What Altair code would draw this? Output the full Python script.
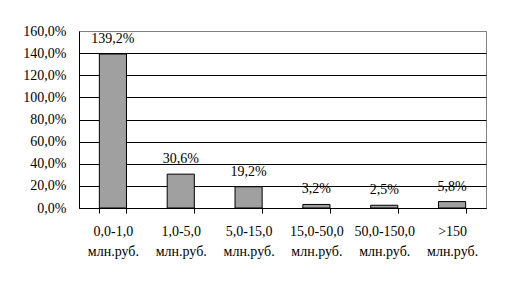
import altair as alt
import pandas as pd

categories = ["0,0-1,0|млн.руб.", "1,0-5,0|млн.руб.", "5,0-15,0|млн.руб.",
              "15,0-50,0|млн.руб.", "50,0-150,0|млн.руб.", ">150|млн.руб."]
values = [1.392, 0.306, 0.192, 0.032, 0.025, 0.058]
labels = ["139,2%", "30,6%", "19,2%", "3,2%", "2,5%", "5,8%"]
y_ticks = [0, 0.2, 0.4, 0.6, 0.8, 1.0, 1.2, 1.4, 1.6]

df = pd.DataFrame({"cat": categories, "val": values, "lab": labels})

FONT = "Liberation Serif"
FS = 14

x = alt.X("cat:N", sort=categories, title=None,
          scale=alt.Scale(paddingInner=0.6, paddingOuter=0.3),
          axis=alt.Axis(labelExpr="split(datum.label, '|')", labelAngle=0,
                        tickBand="extent", tickSize=5, tickColor="black",
                        domainColor="black", labelPadding=18, labelLineHeight=20,
                        labelFont=FONT, labelFontSize=FS, labelColor="black",
                        labelBaseline="middle", labelOverlap=False))
y = alt.Y("val:Q", title=None,
          scale=alt.Scale(domain=[0, 1.6], nice=False),
          axis=alt.Axis(values=y_ticks, labelExpr="replace(format(datum.value, '.1%'), '.', ',')",
                        ticks=False, labelPadding=13, domainColor="black",
                        grid=True, labelOverlap=False,
                        gridColor={"condition": {"test": "datum.value >= 1.6", "value": "#808080"}, "value": "black"},
                        labelFont=FONT, labelFontSize=FS, labelColor="black"))

base = alt.Chart(df).encode(x=x, y=y)
bars = base.mark_bar(color="#A0A0A0", stroke="black", strokeWidth=1)
text = base.mark_text(font=FONT, fontSize=FS, color="black", baseline="alphabetic", dy=-11).encode(text="lab:N")

chart = alt.layer(bars, text).properties(
    width=407, height=177,
    autosize=alt.AutoSizeParams(type="none"),
    padding={"left": 79, "top": 31, "right": 19, "bottom": 76},
    background="white",
).configure_view(stroke="#808080", strokeWidth=1)

chart.save("out.html", embed_options={"renderer": "svg", "actions": False})
